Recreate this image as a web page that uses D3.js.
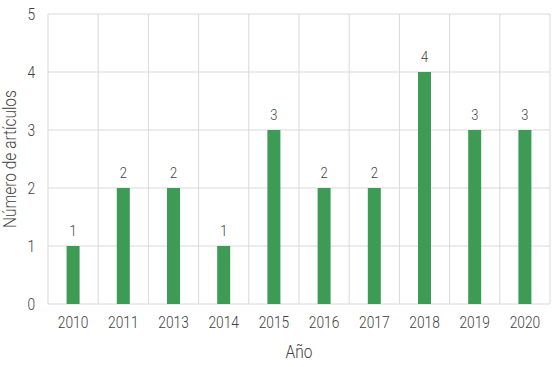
<!DOCTYPE html>
<html>
<head>
<meta charset="utf-8">
<script src="https://cdn.jsdelivr.net/npm/d3@7"></script>
<style>
  body { margin: 0; background: #fff; }
  text { font-family: "Roboto", "Liberation Sans", sans-serif; font-weight: 300; }
</style>
</head>
<body>
<div id="chart"></div>
<script>
// data
var years = ["2010", "2011", "2013", "2014", "2015", "2016", "2017", "2018", "2019", "2020"];
var articles = [1, 2, 2, 1, 3, 2, 2, 4, 3, 3];
var yTicks = [0, 1, 2, 3, 4, 5];

var margin = {top: 14, right: 6, bottom: 63, left: 48},
    width = 556 - margin.left - margin.right,
    height = 367 - margin.top - margin.bottom;

// the reference font is a narrow one, squeeze Roboto a bit
var narrow = 0.86;

var svg = d3.select("#chart")
  .append("svg")
    .attr("width", 556)
    .attr("height", 367)
  .append("g")
    .attr("transform", "translate(" + margin.left + "," + margin.top + ")");

var data = years.map(function(y, i) { return {year: y, value: articles[i]}; });

var x = d3.scaleBand()
    .range([0, width])
    .domain(years)
    .padding(0);

var y = d3.scaleLinear()
    .domain([0, 5])
    .range([height, 0]);

// horizontal gridlines
svg.selectAll("hgrid")
  .data(yTicks)
  .enter()
  .append("line")
    .attr("x1", 0)
    .attr("x2", width)
    .attr("y1", function(d) { return y(d); })
    .attr("y2", function(d) { return y(d); })
    .attr("stroke", "#d9d9d9")
    .attr("stroke-width", 1);

// vertical gridlines at band edges
var edges = years.map(function(d) { return x(d); }).concat([width]);
svg.selectAll("vgrid")
  .data(edges)
  .enter()
  .append("line")
    .attr("x1", function(d) { return d; })
    .attr("x2", function(d) { return d; })
    .attr("y1", 0)
    .attr("y2", height)
    .attr("stroke", "#d9d9d9")
    .attr("stroke-width", 1);

// Y axis
var yAxis = svg.append("g")
  .call(d3.axisLeft(y).tickValues(yTicks).tickFormat(d3.format("d")).tickSize(0).tickPadding(15));
yAxis.select(".domain").remove();
yAxis.selectAll("text")
  .attr("fill", "#404040")
  .attr("transform", "scale(" + narrow + ",1)")
  .style("font-size", "16px");

// X axis
var xAxis = svg.append("g")
  .attr("transform", "translate(0," + height + ")")
  .call(d3.axisBottom(x).tickSize(0).tickPadding(13));
xAxis.select(".domain").remove();
xAxis.selectAll("text")
  .attr("fill", "#404040")
  .attr("transform", "scale(" + narrow + ",1)")
  .style("font-size", "16px");

// bars
var barW = 13;
svg.selectAll("mybar")
  .data(data)
  .enter()
  .append("rect")
    .attr("x", function(d) { return x(d.year) + x.bandwidth() / 2 - barW / 2; })
    .attr("y", function(d) { return y(d.value); })
    .attr("width", barW)
    .attr("height", function(d) { return height - y(d.value); })
    .attr("fill", "#3e9b56");

// value labels
svg.selectAll("mylabel")
  .data(data)
  .enter()
  .append("text")
    .attr("transform", function(d) {
      return "translate(" + (x(d.year) + x.bandwidth() / 2) + "," + (y(d.value) - 10) + ")scale(" + narrow + ",1)";
    })
    .attr("text-anchor", "middle")
    .attr("fill", "#404040")
    .style("font-size", "15px")
    .text(function(d) { return d.value; });

// axis titles
svg.append("text")
  .attr("transform", "translate(" + (width / 2) + "," + (height + 54) + ")scale(" + narrow + ",1)")
  .attr("text-anchor", "middle")
  .attr("fill", "#404040")
  .style("font-size", "18px")
  .text("Año");

svg.append("text")
  .attr("transform", "translate(" + (-32) + "," + (height / 2) + ")rotate(-90)scale(" + narrow + ",1)")
  .attr("text-anchor", "middle")
  .attr("fill", "#404040")
  .style("font-size", "18px")
  .text("Número de artículos");
</script>
</body>
</html>
